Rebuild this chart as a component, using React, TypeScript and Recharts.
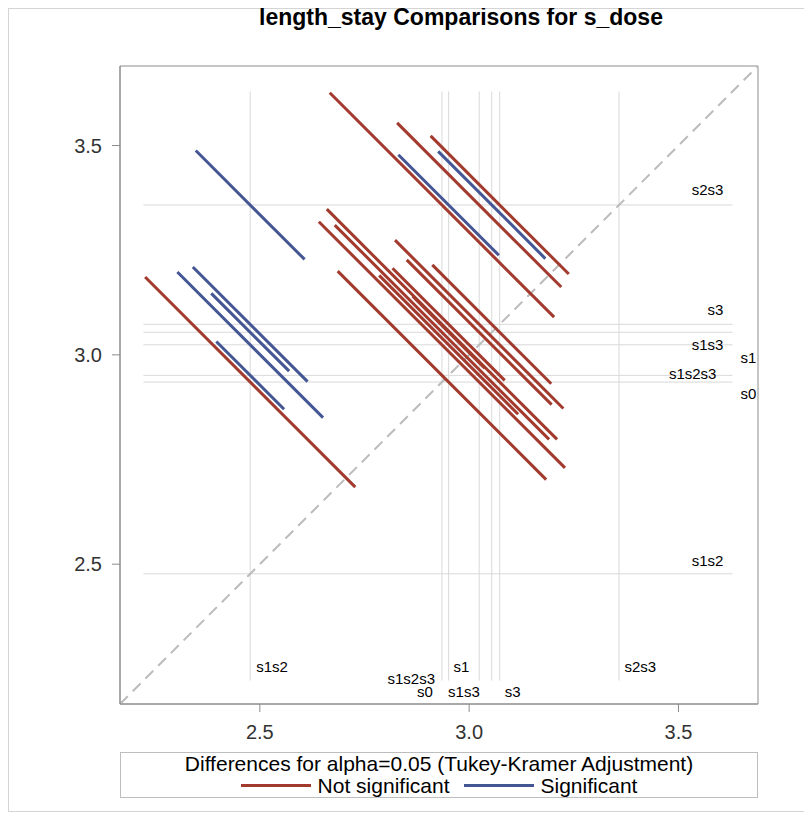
import React from "react";
import {
  ScatterChart,
  Scatter,
  XAxis,
  YAxis,
  ReferenceLine,
  ReferenceArea,
} from "recharts";

// LS means of length_stay per s_dose level
const levels = ["s0", "s1", "s1s2", "s1s2s3", "s1s3", "s2s3", "s3"];
const lsMeans = [2.935, 3.024, 2.477, 2.951, 3.054, 3.358, 3.073];

// pairwise comparisons: lower mean level (x), higher mean level (y)
const compLow = [
  "s1s2", "s1s2", "s1s2", "s1s2", "s1s2", "s1s2",
  "s0", "s1s2s3", "s1", "s1s3", "s3",
  "s0", "s0", "s0", "s0", "s1s2s3", "s1s2s3", "s1s2s3", "s1", "s1", "s1s3",
];
const compHigh = [
  "s2s3", "s0", "s1s2s3", "s1", "s1s3", "s3",
  "s2s3", "s2s3", "s2s3", "s2s3", "s2s3",
  "s1s2s3", "s1", "s1s3", "s3", "s1", "s1s3", "s3", "s1s3", "s3", "s3",
];
// half of the segment's x extent
const halfWidths = [
  0.13, 0.251, 0.081, 0.174, 0.093, 0.137,
  0.268, 0.12, 0.196, 0.128, 0.165,
  0.249, 0.294, 0.256, 0.275, 0.166, 0.086, 0.134, 0.173, 0.201, 0.142,
];
const significant = [
  true, false, true, true, true, true,
  false, true, false, true, false,
  false, false, false, false, false, false, false, false, false, false,
];

const xTicks = [2.5, 3.0, 3.5];
const axisDomain: [number, number] = [2.166, 3.69];
const refExtent: [number, number] = [2.222, 3.629];

const RED = "#A23A2E";
const BLUE = "#445694";
const FONT = "'Liberation Sans', Arial, sans-serif";

const meanOf = (name: string) => lsMeans[levels.indexOf(name)];

const segments = compLow.map((lo, i) => {
  const x = meanOf(lo);
  const y = meanOf(compHigh[i]);
  const h = halfWidths[i];
  return {
    key: lo + "-" + compHigh[i],
    sig: significant[i],
    points: [
      { x: x - h, y: y + h },
      { x: x + h, y: y - h },
    ],
  };
});

// label placement around the reference lines (pixels)
const bottomLabel: Record<string, { anchor: "start" | "end"; dx: number; dy: number }> = {
  s1s2: { anchor: "start", dx: 6, dy: -8.5 },
  s2s3: { anchor: "start", dx: 5.5, dy: -8.5 },
  s1: { anchor: "start", dx: -25.7, dy: -8.5 },
  s1s2s3: { anchor: "end", dx: -13.6, dy: 3.5 },
  s0: { anchor: "end", dx: -9, dy: 16.5 },
  s1s3: { anchor: "start", dx: -43.7, dy: 16.5 },
  s3: { anchor: "start", dx: 5, dy: 16.5 },
};
const rightLabel: Record<string, { anchor: "start" | "end"; dx: number; dy: number }> = {
  s2s3: { anchor: "end", dx: -9, dy: -10 },
  s3: { anchor: "end", dx: -9, dy: -9 },
  s1s3: { anchor: "end", dx: -9, dy: 18 },
  s1: { anchor: "start", dx: 8, dy: 17.7 },
  s1s2s3: { anchor: "end", dx: -16, dy: 4 },
  s0: { anchor: "start", dx: 8, dy: 17 },
  s1s2: { anchor: "end", dx: -9, dy: -8 },
};

const labelStyle = { fontSize: 15, fontFamily: FONT, fill: "#000" };

const vLabel = (name: string) => (props: any) => {
  const vb = props.viewBox || props;
  const p = bottomLabel[name];
  return (
    <text x={vb.x + p.dx} y={vb.y + vb.height + p.dy} textAnchor={p.anchor} {...labelStyle}>
      {name}
    </text>
  );
};

const hLabel = (name: string) => (props: any) => {
  const vb = props.viewBox || props;
  const p = rightLabel[name];
  return (
    <text x={vb.x + vb.width + p.dx} y={vb.y + p.dy} textAnchor={p.anchor} {...labelStyle}>
      {name}
    </text>
  );
};

const noShape = () => <g />;

export default function App() {
  return (
    <div style={{ position: "relative", width: 798, height: 804, fontFamily: FONT }}>
      <div
        style={{
          position: "absolute",
          left: 0,
          top: 0,
          width: 796,
          height: 802,
          border: "1px solid #d4d4d4",
        }}
      />
      <div
        style={{
          position: "absolute",
          left: 153,
          width: 600,
          top: -2,
          textAlign: "center",
          fontSize: 23,
          lineHeight: "23px",
          fontWeight: "bold",
          color: "#000",
        }}
      >
        length_stay Comparisons for s_dose
      </div>
      <div style={{ position: "absolute", left: 0, top: 0 }}>
        <ScatterChart width={796} height={746} margin={{ top: 58, right: 46, bottom: 0, left: 52 }}>
          <XAxis
            type="number"
            dataKey="x"
            domain={axisDomain}
            ticks={xTicks}
            allowDataOverflow
            tickFormatter={(v: number) => v.toFixed(1)}
            height={50}
            tickSize={8}
            tickMargin={13}
            stroke="#8c8c8c"
            tick={{ fill: "#333", fontSize: 20, fontFamily: FONT }}
          />
          <YAxis
            type="number"
            dataKey="y"
            domain={axisDomain}
            ticks={xTicks}
            allowDataOverflow
            tickFormatter={(v: number) => v.toFixed(1)}
            width={60}
            tickSize={8}
            tickMargin={10}
            stroke="#8c8c8c"
            tick={{ fill: "#333", fontSize: 20, fontFamily: FONT }}
          />
          <ReferenceArea
            x1={axisDomain[0]}
            x2={axisDomain[1]}
            y1={axisDomain[0]}
            y2={axisDomain[1]}
            fill="none"
            fillOpacity={0}
            stroke="#8c8c8c"
            strokeWidth={1}
            ifOverflow="visible"
          />
          {levels.map((name, i) => (
            <ReferenceLine
              key={"v" + name}
              segment={[
                { x: lsMeans[i], y: refExtent[0] },
                { x: lsMeans[i], y: refExtent[1] },
              ]}
              stroke="#d9d9d9"
              strokeWidth={1}
              ifOverflow="visible"
              label={vLabel(name)}
            />
          ))}
          {levels.map((name, i) => (
            <ReferenceLine
              key={"h" + name}
              segment={[
                { x: refExtent[0], y: lsMeans[i] },
                { x: refExtent[1], y: lsMeans[i] },
              ]}
              stroke="#d9d9d9"
              strokeWidth={1}
              ifOverflow="visible"
              label={hLabel(name)}
            />
          ))}
          <ReferenceLine
            segment={[
              { x: axisDomain[0], y: axisDomain[0] },
              { x: axisDomain[1], y: axisDomain[1] },
            ]}
            stroke="#bbbbbb"
            strokeWidth={2}
            strokeDasharray="11 7"
            ifOverflow="visible"
          />
          {segments.map((s) => (
            <Scatter
              key={s.key}
              data={s.points}
              fill={s.sig ? BLUE : RED}
              stroke={s.sig ? BLUE : RED}
              line={{ stroke: s.sig ? BLUE : RED, strokeWidth: 3 }}
              shape={noShape}
              isAnimationActive={false}
            />
          ))}
        </ScatterChart>
      </div>
      <div
        style={{
          position: "absolute",
          left: 112,
          top: 744,
          width: 636,
          height: 44,
          border: "1px solid #bdbdbd",
          background: "#fff",
          fontSize: 21,
          color: "#000",
          textAlign: "center",
        }}
      >
        <div style={{ lineHeight: "22px" }}>
          Differences for alpha=0.05 (Tukey-Kramer Adjustment)
        </div>
        <div style={{ display: "flex", justifyContent: "center", alignItems: "center", lineHeight: "21px" }}>
          <span style={{ display: "inline-block", width: 70, height: 3, background: RED, marginRight: 7 }} />
          <span style={{ marginRight: 14 }}>Not significant</span>
          <span style={{ display: "inline-block", width: 70, height: 3, background: BLUE, marginRight: 7 }} />
          <span>Significant</span>
        </div>
      </div>
    </div>
  );
}
